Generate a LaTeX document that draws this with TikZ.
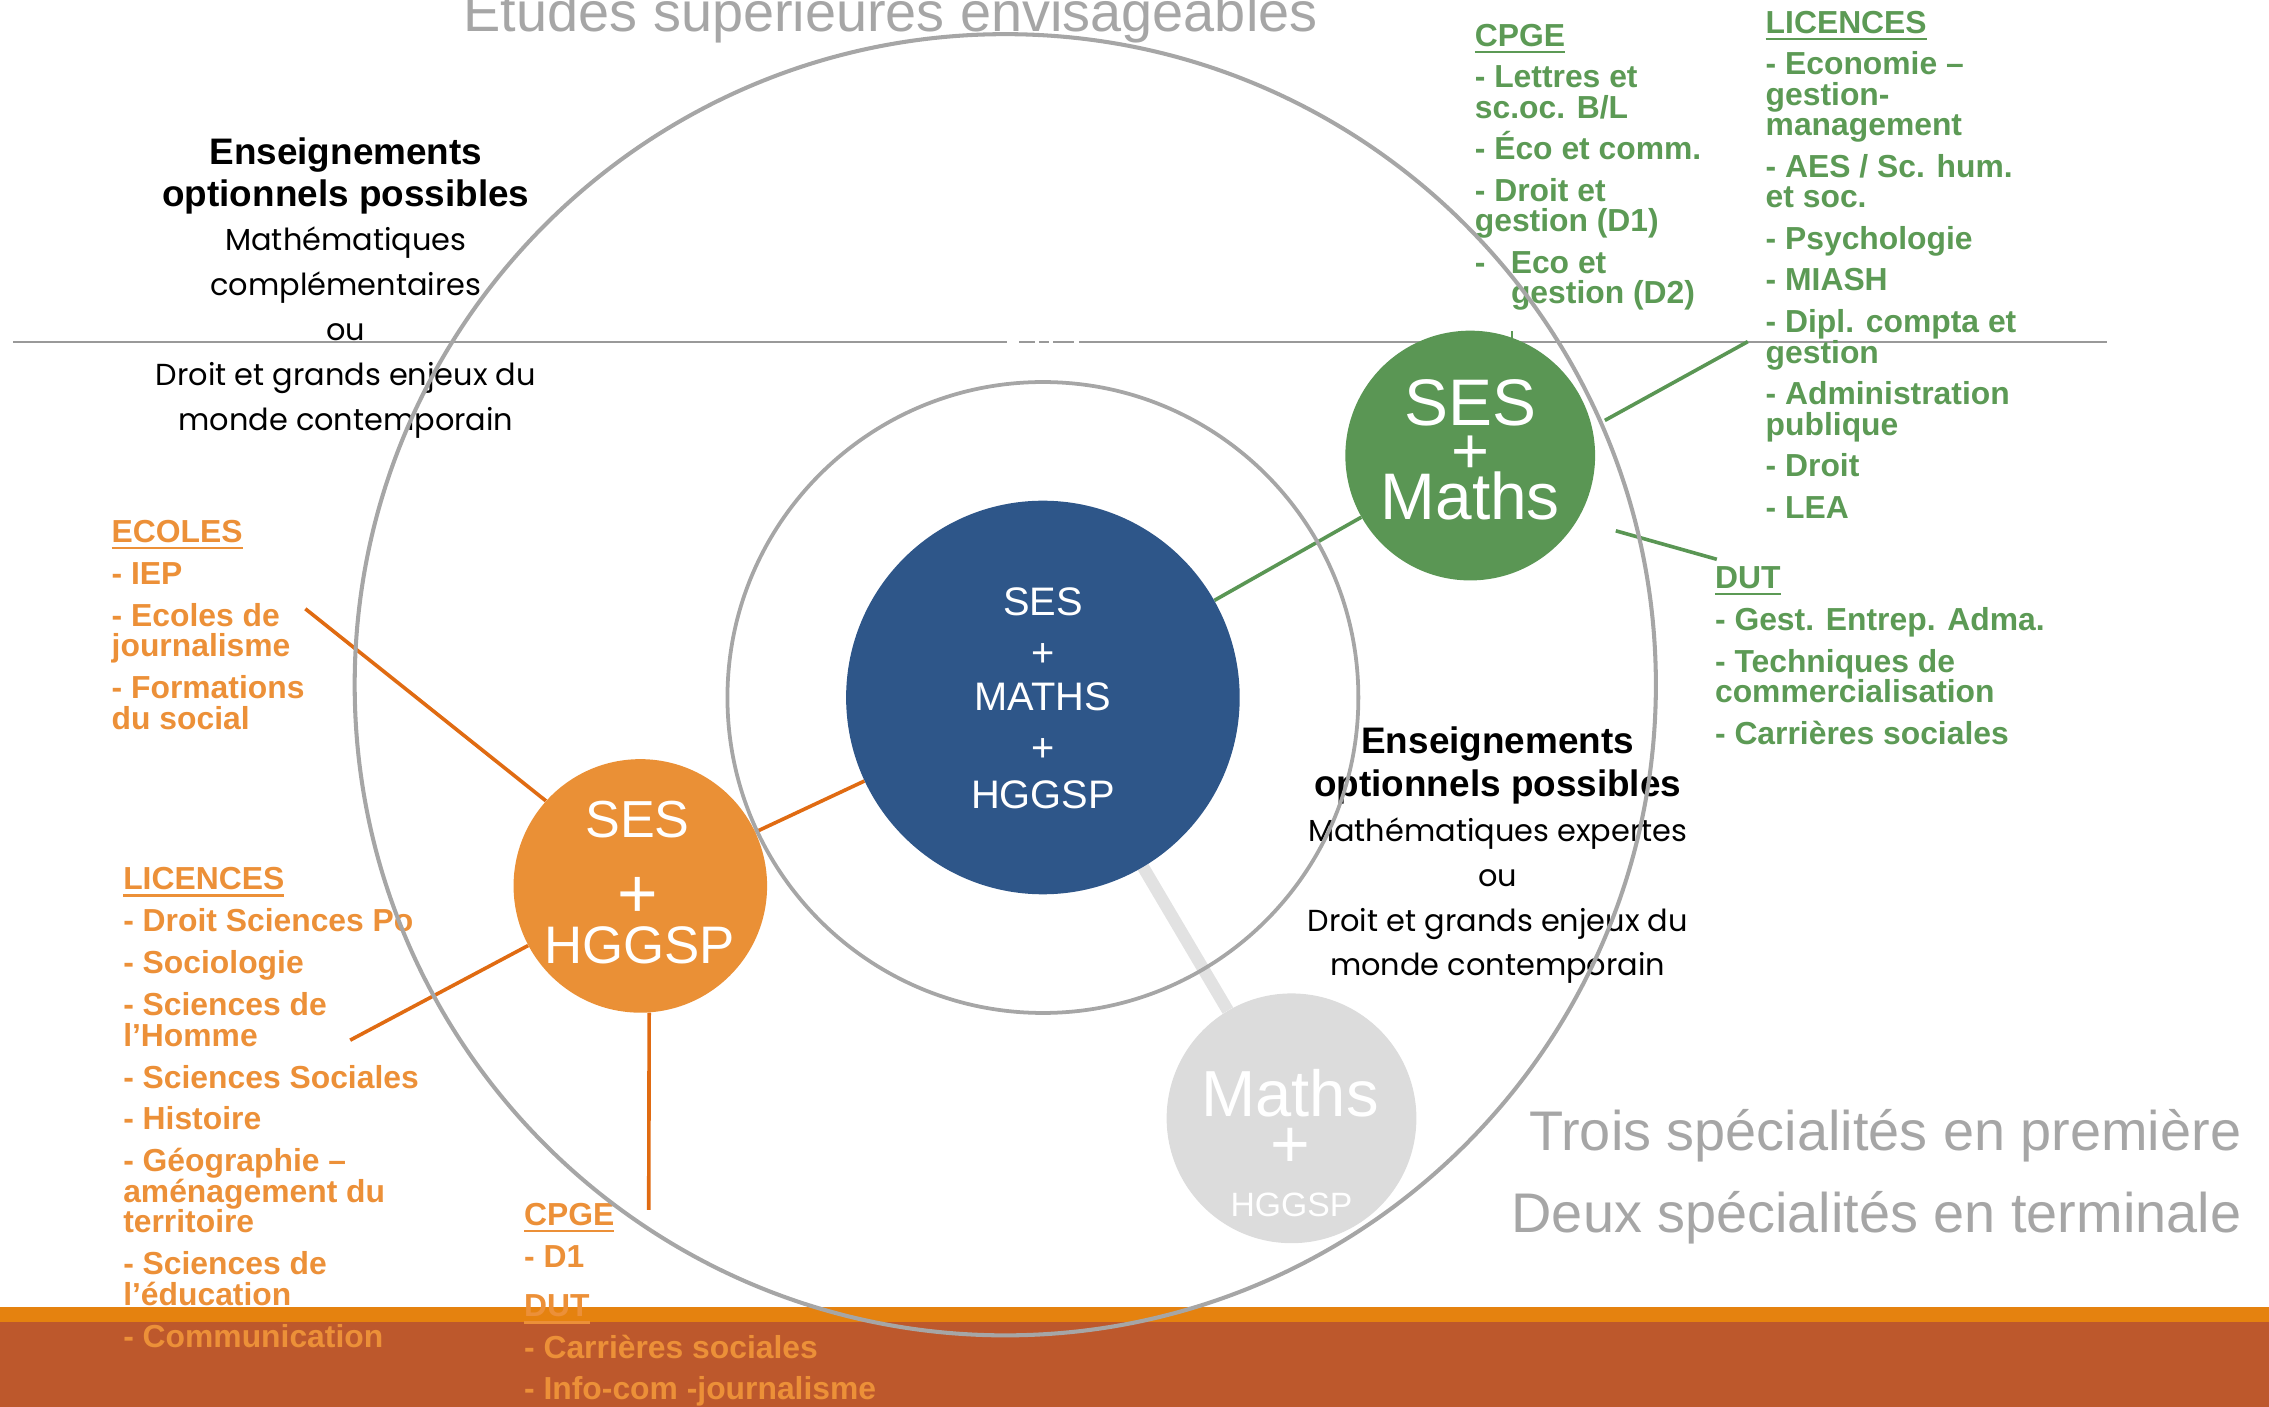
\documentclass[tikz,border=0pt]{standalone}
\usepackage{fontspec}
\setmainfont{Liberation Sans}
\newfontfamily\gothic{Poppins}
\usetikzlibrary{backgrounds}
\setlength{\lineskiplimit}{-100pt}
\definecolor{cblue}{HTML}{2E5689}
\definecolor{cgreen}{HTML}{5A9654}
\definecolor{corange}{HTML}{EA9036}
\definecolor{cconn}{HTML}{E06B12}
\definecolor{ctxto}{HTML}{EC9038}
\definecolor{ctxtg}{HTML}{5C9A55}
\definecolor{cring}{HTML}{A6A6A6}
\definecolor{cgrayc}{HTML}{DCDCDC}
\definecolor{cgrayl}{HTML}{E2E2E2}
\definecolor{cstripe}{HTML}{E5820F}
\definecolor{cband}{HTML}{BD582C}
\definecolor{cgtext}{HTML}{A6A6A6}
\definecolor{chline}{HTML}{999999}
\newcommand\ulh[1]{\setbox0\hbox{#1}\rlap{\rule[-4.8pt]{\wd0}{1.6pt}}\box0}
\newcommand\enshead{\normalfont\bfseries\fontsize{25.5}{25.5}\selectfont}
\begin{document}
\begin{tikzpicture}[x=1pt,y=-1pt,
 lst/.style={anchor=north west, inner sep=0pt, align=left, font=\bfseries\fontsize{22}{21}\selectfont},
 glst/.style={lst, text=ctxtg},
 olst/.style={lst, text=ctxto},
 opt/.style={anchor=north, inner sep=0pt, align=center, font=\gothic\fontsize{21}{31}\selectfont},
 ball/.style={circle, inner sep=0pt, draw=none},
 ct/.style={text=white, inner sep=0pt, anchor=base},
 conn/.style={line width=2.5pt},
 ring/.style={draw=cring, line width=2.8pt},
 big/.style={text=cgtext, inner sep=0pt, font=\fontsize{38.6}{38.6}\selectfont}
]
\useasboundingbox (0,0) rectangle (1568,972);

% filled circles
\node[ball, fill=cblue, minimum size=272pt] (blue) at (720.7,482) {};
\node[ball, fill=cgreen, minimum size=172.6pt] (green) at (1016,314.8) {};
\node[ball, fill=corange, minimum size=175.2pt] (orange) at (442.5,612.2) {};
\node[ball, fill=cgrayc, minimum size=172.6pt] (grayc) at (892.5,772.8) {};

% circle texts
\node[ct, font=\fontsize{27.5}{27.5}\selectfont] (b1) at (720.7,425.5) {SES};
\node[ct, font=\fontsize{27.5}{27.5}\selectfont] (b2) at (720.7,460.3) {+};
\node[ct, font=\fontsize{27.5}{27.5}\selectfont] (b3) at (720.7,491) {MATHS};
\node[ct, font=\fontsize{27.5}{27.5}\selectfont] (b4) at (720.7,526.3) {+};
\node[ct, font=\fontsize{27.5}{27.5}\selectfont] (b5) at (720.7,558.5) {HGGSP};

\node[ct, font=\fontsize{45.5}{45.5}\selectfont] (g1) at (1016,294) {SES};
\node[ct, font=\fontsize{45}{45}\selectfont] (g2) at (1016,327.4) {+};
\node[ct, font=\fontsize{45.5}{45.5}\selectfont] (g3) at (1016,358.7) {Maths};

\node[ct, font=\fontsize{36}{36}\selectfont] (o1) at (440.5,578.6) {SES};
\node[ct, font=\fontsize{48}{48}\selectfont] (o2) at (441,634) {+};
\node[ct, font=\fontsize{36.5}{36.5}\selectfont] (o3) at (442,665.6) {HGGSP};

\node[ct, font=\fontsize{45}{45}\selectfont] (m1) at (891.4,771.7) {Maths};
\node[ct, font=\fontsize{47}{47}\selectfont] (m2) at (892,807) {+};
\node[ct, font=\fontsize{23.3}{23.3}\selectfont] (m3) at (892.5,840.6) {HGGSP};

\begin{scope}[on background layer]
 % bottom band
 \fill[cstripe] (0,903) rectangle (1568,913.6);
 \fill[cband] (0,913.6) rectangle (1568,972);
 % horizontal rule, with the small white gaps it shows
 \draw[chline, line width=1.3pt] (9,236.6) -- (1456,236.6);
 \fill[white] (695.7,234.5) rectangle (704.4,238.7);
 \fill[white] (715.3,234.5) rectangle (718.3,238.7);
 \fill[white] (725.2,234.5) rectangle (728,238.7);
 \fill[white] (742.2,234.5) rectangle (745.5,238.7);
 % small green mark above the green circle
 \draw[ctxtg, line width=1.5pt] (1044.7,229) -- (1044.7,236);

 % titles
 \node[big, anchor=base] (title) at (615.5,22) {Études supérieures envisageables};
 \node[big, anchor=base east] (trois) at (1549,795) {Trois spécialités en première};
 \node[big, anchor=base east] (deux) at (1549,852) {Deux spécialités en terminale};

 % optional courses
 \node[opt] (optL) at (239,94.7) {{\enshead Enseignements}\\[-2pt]{\enshead optionnels possibles}\\Mathématiques\\complémentaires\\ou\\Droit et grands enjeux du\\monde contemporain};
 \node[opt] (optR) at (1035,501.7) {{\enshead Enseignements}\\[-1pt]{\enshead optionnels possibles}\\Mathématiques expertes\\ou\\Droit et grands enjeux du\\monde contemporain};

 % green lists
 \node[glst] (gcpge) at (1019,16.3) {\ulh{CPGE}\\[7.8pt]- Lettres et\\sc.oc. B/L\\[7.8pt]- Éco et comm.\\[7.8pt]- Droit et\\gestion (D1)\\[7.8pt]-\hspace{17.5pt}Eco et\\\hspace*{25pt}gestion (D2)};
 \node[glst] (glic) at (1220,7.3) {\ulh{LICENCES}\\[7.8pt]- Economie –\\gestion-\\management\\[7.8pt]- AES / Sc. hum.\\et soc.\\[7.8pt]- Psychologie\\[7.8pt]- MIASH\\[7.8pt]- Dipl. compta et\\gestion\\[7.8pt]- Administration\\publique\\[7.8pt]- Droit\\[7.8pt]- LEA};
 \node[glst] (gdut) at (1185,391.3) {\ulh{DUT}\\[8pt]- Gest. Entrep. Adma.\\[8pt]- Techniques de\\commercialisation\\[8pt]- Carrières sociales};

 % orange lists
 \node[olst] (oecol) at (77,359.3) {\ulh{ECOLES}\\[8pt]- IEP\\[8pt]- Ecoles de\\journalisme\\[8pt]- Formations\\du social};
 \node[olst] (olic) at (85,599.3) {\ulh{LICENCES}\\[8pt]- Droit Sciences Po\\[8pt]- Sociologie\\[8pt]- Sciences de\\l’Homme\\[8pt]- Sciences Sociales\\[8pt]- Histoire\\[8pt]- Géographie –\\aménagement du\\territoire\\[8pt]- Sciences de\\l’éducation\\[8pt]- Communication};
 \node[olst] (ocpge) at (362,831.3) {\ulh{CPGE}\\[8pt]- D1\\[13pt]\ulh{DUT}\\[8pt]- Carrières sociales\\[7pt]- Info-com -journalisme};

 % connectors
 \draw[cgrayl, line width=8.5pt] (blue) -- (grayc);
 \draw[cconn, conn] (blue) -- (orange);
 \draw[cgreen, conn] (blue) -- (green);
 \coordinate (gL) at (1207.8,236.1);
 \draw[cgreen, conn, shorten <=10pt] (green.13) -- (gL);
 \coordinate (gD) at (1186.4,386.5);
 \draw[cgreen, conn, shorten <=27.5pt] (green.-31) -- (gD);
 \coordinate (oE) at (211,420.7);
 \draw[cconn, conn] (orange.138) -- (oE);
 \coordinate (oL) at (242,718.8);
 \draw[cconn, conn] (orange.-152) -- (oL);
 \coordinate (oC) at (448.3,836);
 \draw[cconn, conn] (orange.-86) -- (oC);

 % rings
 \draw[ring] (694.7,473.2) circle[radius=449.6];
 \draw[ring, line width=2.6pt] (720.7,482) circle[radius=218];
\end{scope}
\end{tikzpicture}
\end{document}
